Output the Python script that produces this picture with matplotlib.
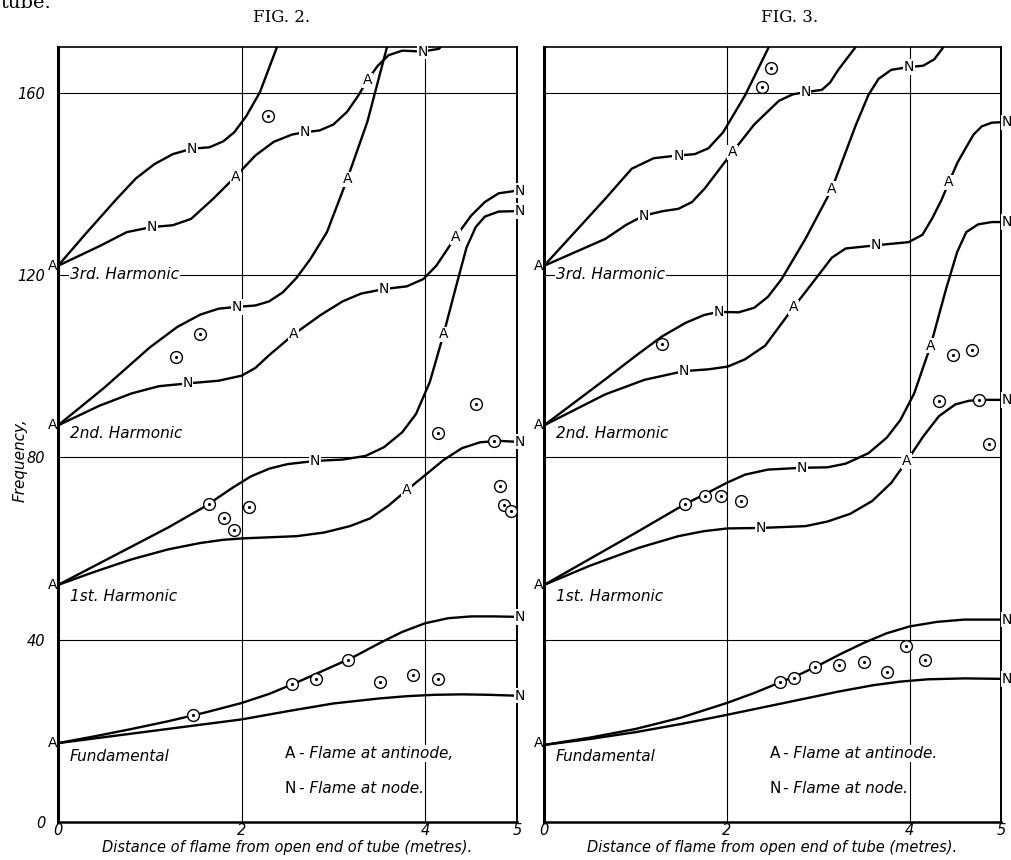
import matplotlib.pyplot as plt

# ---------------- Fig. 2 curves (distance m, frequency) ----------------
f2_fund_hi_x = [0, 0.4, 0.8, 1.2, 1.6, 2.0, 2.3, 2.6, 2.9, 3.2, 3.5, 3.75, 4.0, 4.25, 4.5, 4.75, 5.0]
f2_fund_hi_y = [17.3, 18.8, 20.4, 22.1, 24.0, 26.1, 28.1, 30.6, 33.3, 36.0, 39.2, 41.7, 43.6, 44.7, 45.1, 45.1, 45.0]
f2_fund_lo_x = [0, 0.5, 1.0, 1.5, 2.0, 2.5, 3.0, 3.5, 3.8, 4.1, 4.4, 4.7, 5.0]
f2_fund_lo_y = [17.3, 18.6, 19.9, 21.2, 22.5, 24.3, 26.0, 27.1, 27.6, 27.9, 28.0, 27.9, 27.7]

f2_h1_hi_x = [0, 0.4, 0.8, 1.2, 1.6, 1.9, 2.1, 2.3, 2.5, 2.8, 3.1, 3.35, 3.55, 3.75, 3.9,
              4.05, 4.2, 4.33, 4.45, 4.55, 4.65, 4.8, 5.0]
f2_h1_hi_y = [52, 56.2, 60.4, 64.6, 69.2, 73.3, 75.8, 77.5, 78.5, 79.2, 79.5, 80.3, 82.2, 85.5, 89.5,
              96.5, 107, 117, 126, 130.5, 132.8, 133.9, 134]
f2_h1_lo_x = [0, 0.4, 0.8, 1.2, 1.55, 1.8, 2.0, 2.24, 2.6, 2.9, 3.18, 3.4, 3.6, 3.8, 4.0,
              4.2, 4.4, 4.6, 4.8, 5.0]
f2_h1_lo_y = [52, 54.9, 57.6, 59.8, 61.2, 61.9, 62.2, 62.4, 62.7, 63.5, 64.9, 66.6, 69.4, 72.8, 76.1,
              79.4, 82.0, 83.3, 83.6, 83.4]

f2_h2_hi_x = [0, 0.5, 1.0, 1.3, 1.55, 1.75, 1.95, 2.15, 2.3, 2.45, 2.6, 2.75, 2.93, 3.15,
              3.37, 3.58, 3.7]
f2_h2_hi_y = [87, 95.2, 104.1, 108.6, 111.3, 112.6, 113, 113.3, 114.2, 116.2, 119.4, 123.5, 129.4, 141,
              153.6, 169.7, 180]
f2_h2_lo_x = [0, 0.45, 0.8, 1.1, 1.41, 1.75, 2.0, 2.15, 2.3, 2.57, 2.86, 3.1, 3.3, 3.55, 3.8,
              3.98, 4.12, 4.33, 4.5, 4.65, 4.8, 5.0]
f2_h2_lo_y = [87, 91.3, 94.0, 95.6, 96.2, 96.8, 97.9, 99.6, 102.4, 107, 111.2, 114.2, 115.9, 116.9, 117.5,
              119.1, 122, 128.3, 133, 136, 137.9, 138.5]

f2_h3_hi_x = [0, 0.3, 0.64, 0.85, 1.05, 1.25, 1.46, 1.65, 1.8, 1.92, 2.05, 2.2, 2.38, 2.45]
f2_h3_hi_y = [122, 129, 136.7, 141.2, 144.3, 146.5, 147.7, 148.0, 149.3, 151.3, 154.8, 160.1, 169.7, 174]
f2_h3_lo_x = [0, 0.46, 0.75, 1.02, 1.25, 1.45, 1.69, 1.93, 2.15, 2.35, 2.55, 2.69, 2.85, 3.0,
              3.15, 3.27, 3.37, 3.48, 3.6, 3.75, 3.97, 4.15, 4.3]
f2_h3_lo_y = [122, 126.4, 129.4, 130.5, 130.9, 132.3, 136.7, 141.5, 146.2, 149.2, 150.8, 151.3, 151.7, 153,
              155.8, 159.3, 162.7, 165.8, 168.2, 169.2, 169, 169.6, 173]

f2_obs_x = [1.475, 2.55, 2.81, 3.16, 3.51, 3.87, 4.14, 1.64, 1.81, 1.92, 2.08,
            4.14, 4.55, 4.75, 4.82, 4.86, 4.93, 1.29, 1.55, 2.29]
f2_obs_y = [23.4, 30.3, 31.3, 35.5, 30.8, 32.3, 31.3, 69.7, 66.7, 64.0, 69.1,
            85.4, 91.6, 83.5, 73.6, 69.6, 68.2, 102.1, 107.0, 154.8]

f2_marks = ["N", "N", "A", "N", "A", "N", "N", "A", "N", "A", "N", "A", "N",
            "N", "A", "N", "A", "N", "N", "N"]
f2_marks_x = [1.46, 1.02, 1.93, 2.69, 3.37, 3.97, 1.95, 3.15, 1.41, 2.57, 3.55, 4.33, 5.03,
              2.8, 4.2, 5.03, 3.8, 5.03, 5.03, 5.03]
f2_marks_y = [147.7, 130.5, 141.5, 151.3, 162.7, 169, 113, 141, 96.2, 107, 116.9, 128.3, 138.5,
              79.2, 107, 134, 72.8, 83.4, 45, 27.7]

# ---------------- Fig. 3 curves ----------------
f3_fund_hi_x = [0, 0.5, 1.0, 1.5, 2.0, 2.3, 2.58, 2.8, 3.0, 3.25, 3.5, 3.75, 4.0, 4.3, 4.6, 5.0]
f3_fund_hi_y = [16.9, 18.5, 20.4, 22.9, 26.1, 28.3, 30.6, 32.4, 34.3, 36.9, 39.3, 41.4, 42.9, 43.9, 44.4, 44.4]
f3_fund_lo_x = [0, 0.5, 1.0, 1.5, 2.0, 2.6, 3.22, 3.6, 3.9, 4.2, 4.6, 5.0]
f3_fund_lo_y = [16.9, 18.2, 19.7, 21.5, 23.5, 26.0, 28.6, 30.0, 30.8, 31.3, 31.5, 31.4]

f3_h1_hi_x = [0, 0.5, 1.0, 1.54, 1.76, 2.01, 2.2, 2.45, 2.82, 3.1, 3.3, 3.55, 3.75, 3.9, 4.05,
              4.23, 4.4, 4.52, 4.62, 4.75, 4.9, 5.0]
f3_h1_hi_y = [52, 57.7, 63.4, 69.7, 71.9, 74.5, 76.2, 77.3, 77.7, 77.8, 78.6, 80.9, 84.3, 88.2, 94,
              104.5, 117, 125, 129.4, 131.1, 131.6, 131.6]
f3_h1_lo_x = [0, 0.5, 1.03, 1.47, 1.75, 2.01, 2.37, 2.86, 3.1, 3.35, 3.59, 3.8, 3.97, 4.15,
              4.32, 4.5, 4.65, 4.8, 5.0]
f3_h1_lo_y = [52, 56.2, 60.1, 62.7, 63.8, 64.4, 64.5, 64.9, 65.9, 67.6, 70.4, 74.4, 79.2, 84.6,
              89.0, 91.6, 92.4, 92.6, 92.6]

f3_h2_hi_x = [0, 0.67, 1.0, 1.29, 1.55, 1.75, 1.91, 2.13, 2.3, 2.45, 2.6, 2.86, 3.15, 3.41,
              3.55, 3.66, 3.8, 3.99, 4.15, 4.27, 4.36, 4.45]
f3_h2_hi_y = [87, 97.1, 102.2, 106.5, 109.5, 111.2, 111.9, 111.8, 112.8, 115.2, 119.1, 127.9, 138.9, 152.8,
              159.5, 163, 165, 165.6, 165.9, 167.3, 169.7, 175]
f3_h2_lo_x = [0, 0.67, 1.1, 1.53, 1.8, 2.01, 2.2, 2.42, 2.73, 2.97, 3.15, 3.3, 3.63, 3.99,
              4.14, 4.25, 4.35, 4.43, 4.52, 4.61, 4.7, 4.79, 4.9, 5.0]
f3_h2_lo_y = [87, 93.8, 97, 98.9, 99.3, 99.9, 101.5, 104.5, 112.9, 119.1, 123.8, 125.8, 126.5, 127.2,
              128.8, 132.5, 136.5, 140.3, 144.5, 147.7, 150.8, 152.6, 153.4, 153.5]

f3_h3_hi_x = [0, 0.67, 0.96, 1.2, 1.46, 1.65, 1.8, 1.96, 2.2, 2.46, 2.55]
f3_h3_hi_y = [122, 136.7, 143.3, 145.6, 146.2, 146.5, 147.8, 151.3, 159.4, 170, 174]
f3_h3_lo_x = [0, 0.67, 0.9, 1.09, 1.3, 1.47, 1.62, 1.76, 2.06, 2.3, 2.57, 2.72, 2.86, 3.04,
              3.13, 3.22, 3.41, 3.5]
f3_h3_lo_y = [122, 127.9, 131, 133, 134, 134.5, 136, 139, 146.9, 153, 158.2, 159.6, 160.1, 160.6,
              162.2, 165, 170, 174]

f3_obs_x = [2.58, 2.73, 2.97, 3.23, 3.5, 3.75, 3.96, 4.17, 1.54, 1.76, 1.94, 2.15,
            4.32, 4.76, 4.87, 4.47, 4.68, 1.29, 2.38, 2.48]
f3_obs_y = [30.7, 31.5, 34.1, 34.5, 35.2, 32.9, 38.7, 35.6, 69.7, 71.6, 71.4, 70.4,
            92.4, 92.6, 82.9, 102.5, 103.5, 104.8, 161.3, 165.3]

f3_marks = ["N", "N", "A", "N", "N", "A", "N", "N", "A", "N", "A", "N",
            "N", "A", "N", "N", "A", "N", "N", "N"]
f3_marks_x = [1.47, 1.09, 2.06, 2.86, 1.91, 3.15, 3.99, 1.53, 2.73, 3.63, 4.43, 5.06,
              2.82, 4.23, 5.06, 2.37, 3.97, 5.06, 5.06, 5.06]
f3_marks_y = [146.2, 133, 146.9, 160.1, 111.9, 138.9, 165.6, 98.9, 112.9, 126.5, 140.3, 153.5,
              77.7, 104.5, 131.6, 64.5, 79.2, 92.6, 44.4, 31.4]

start_freqs = [17.3, 52, 87, 122]
mode_names = ["Fundamental", "1st. Harmonic", "2nd. Harmonic", "3rd. Harmonic"]
mode_label_y = [14.4, 49.5, 85.2, 120]
yticks = [0, 40, 80, 120, 160]
xticks = [0, 2, 4, 5]

white = dict(boxstyle="square,pad=0.05", fc="white", ec="none")

fig = plt.figure(figsize=(10.11, 8.6), dpi=100)
ax2 = fig.add_axes([58 / 1011, 38 / 860, 459 / 1011, 775 / 860])
ax3 = fig.add_axes([544 / 1011, 38 / 860, 457 / 1011, 775 / 860])


def draw_panel(ax, curves, obs_x, obs_y, marks, mx, my, comma):
    ax.set_xlim(0, 5)
    ax.set_ylim(0, 170)
    for v in [2, 4]:
        ax.axvline(v, color="black", lw=0.8, zorder=1)
    for v in [40, 80, 120, 160]:
        ax.axhline(v, color="black", lw=0.8, zorder=1)
    for cx, cy in curves:
        ax.plot(cx, cy, color="black", lw=1.7, zorder=2,
                solid_joinstyle="round", solid_capstyle="round")
    for m, x, y in zip(marks, mx, my):
        ax.text(x, y, m, ha="center", va="center", fontsize=10, bbox=white,
                zorder=4, clip_on=False)
    ax.plot(obs_x, obs_y, "o", mfc="white", mec="black", ms=8.5, mew=1.0, zorder=5)
    ax.plot(obs_x, obs_y, ".", color="black", ms=2.5, zorder=6)
    for f in start_freqs:
        ax.text(-0.06, f, "A", ha="center", va="center", fontsize=10, clip_on=False, zorder=4)
    for name, y in zip(mode_names, mode_label_y):
        ax.text(0.13, y, name, ha="left", va="center", fontsize=11, style="italic",
                bbox=white, zorder=4)
    ax.text(2.47, 15.0, "A", fontsize=11, va="center", bbox=white, zorder=4)
    ax.text(2.62, 15.0, "- Flame at antinode" + comma, fontsize=11, style="italic",
            va="center", bbox=white, zorder=4)
    ax.text(2.47, 7.4, "N", fontsize=11, va="center", bbox=white, zorder=4)
    ax.text(2.62, 7.4, "- Flame at node.", fontsize=11, style="italic",
            va="center", bbox=white, zorder=4)

    ax.set_xticks(xticks)
    ax.set_xticklabels([str(t) for t in xticks], style="italic", fontsize=10.5)
    ax.tick_params(length=0, pad=0.5)
    ax.set_xlabel("Distance of flame from open end of tube (metres).",
                  style="italic", fontsize=10.5, labelpad=2)
    ax.spines["left"].set_linewidth(2.2)
    ax.spines["bottom"].set_linewidth(1.8)
    ax.spines["top"].set_linewidth(1.2)
    ax.spines["right"].set_linewidth(1.4)


draw_panel(ax2,
           [(f2_fund_hi_x, f2_fund_hi_y), (f2_fund_lo_x, f2_fund_lo_y),
            (f2_h1_hi_x, f2_h1_hi_y), (f2_h1_lo_x, f2_h1_lo_y),
            (f2_h2_hi_x, f2_h2_hi_y), (f2_h2_lo_x, f2_h2_lo_y),
            (f2_h3_hi_x, f2_h3_hi_y), (f2_h3_lo_x, f2_h3_lo_y)],
           f2_obs_x, f2_obs_y, f2_marks, f2_marks_x, f2_marks_y, ",")
draw_panel(ax3,
           [(f3_fund_hi_x, f3_fund_hi_y), (f3_fund_lo_x, f3_fund_lo_y),
            (f3_h1_hi_x, f3_h1_hi_y), (f3_h1_lo_x, f3_h1_lo_y),
            (f3_h2_hi_x, f3_h2_hi_y), (f3_h2_lo_x, f3_h2_lo_y),
            (f3_h3_hi_x, f3_h3_hi_y), (f3_h3_lo_x, f3_h3_lo_y)],
           f3_obs_x, f3_obs_y, f3_marks, f3_marks_x, f3_marks_y, ".")

ax2.set_yticks(yticks)
ax2.set_yticklabels([str(t) for t in yticks], style="italic", fontsize=10.5)
ax2.tick_params(axis="y", pad=9)
ax3.set_yticks(yticks)
ax3.set_yticklabels([])

fig.text(20 / 1011, 1 - 460 / 860, "Frequency,", rotation=90, style="italic",
         fontsize=11, ha="center", va="center")
fig.text(282 / 1011, 1 - 18 / 860, "FIG. 2.", family="DejaVu Serif", fontsize=12,
         ha="center", va="center")
fig.text(790 / 1011, 1 - 18 / 860, "FIG. 3.", family="DejaVu Serif", fontsize=12,
         ha="center", va="center")
fig.text(0.0, 0.997, "tube.", family="DejaVu Serif", fontsize=14, ha="left", va="center")

fig.savefig("out.png", dpi=100)
